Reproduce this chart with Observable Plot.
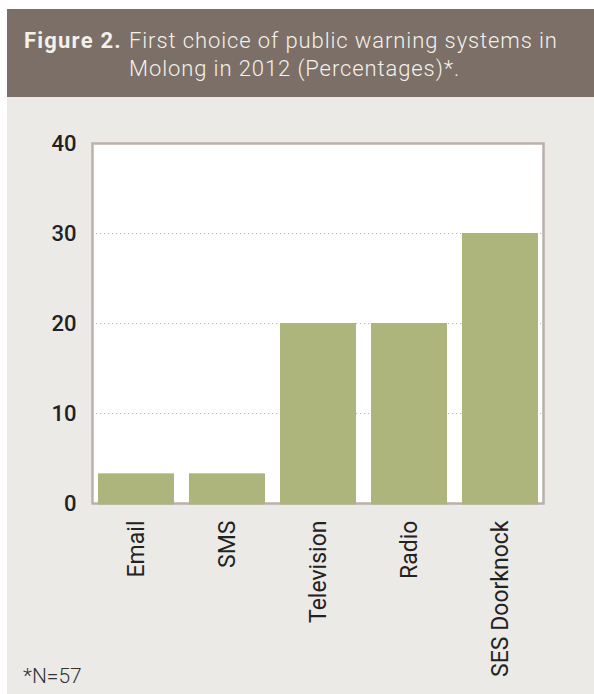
<!DOCTYPE html>
<html>
<head>
<meta charset="utf-8">
<script src="https://cdn.jsdelivr.net/npm/d3@7"></script>
<script src="https://cdn.jsdelivr.net/npm/@observablehq/plot@0.6"></script>
<style>
  html, body { margin: 0; padding: 0; background: #ffffff; }
  body { width: 594px; height: 694px; position: relative; overflow: hidden; font-family: Roboto, "Noto Sans", sans-serif; }
  #panel { position: absolute; left: 7px; top: 9px; width: 587px; height: 685px; background: #ebeae6; }
  #header { position: absolute; left: 7px; top: 9px; width: 587px; height: 88px; background: #7b6f67; color: #f4f1ec; }
  #title { position: absolute; left: 17px; top: 18px; display: grid; grid-template-columns: 105px 460px; font-size: 22px; line-height: 28px; }
  #title .fig { font-weight: 700; white-space: nowrap; letter-spacing: 1.2px; }
  #title .txt { font-weight: 300; letter-spacing: 0.9px; }
  #chart { position: absolute; left: 0; top: 97px; }
  #note { position: absolute; left: 23px; top: 664px; font-size: 21px; font-weight: 300; color: #333; }
</style>
</head>
<body>
<div id="panel"></div>
<div id="header"><div id="title"><span class="fig">Figure 2.</span><span class="txt">First choice of public warning systems in Molong in 2012 (Percentages)*.</span></div></div>
<div id="chart"></div>
<div id="note">*N=57</div>
<script>
const categories = ["Email", "SMS", "Television", "Radio", "SES Doorknock"];
const values = [3.3, 3.3, 20, 20, 30];
const yTicks = [0, 10, 20, 30, 40];
const gridTicks = [10, 20, 30];

const data = categories.map((c, i) => ({category: c, value: values[i]}));

const plot = Plot.plot({
  width: 594,
  height: 597,
  marginLeft: 92,
  marginRight: 51,
  marginTop: 46,
  marginBottom: 191,
  style: {background: "transparent", fontFamily: "Roboto, sans-serif", color: "#222"},
  x: {domain: categories, paddingInner: 0.165, paddingOuter: 0.05, label: null},
  y: {domain: [0, 40], label: null},
  marks: [
    Plot.frame({fill: "white", stroke: "#bab1ab", strokeWidth: 2.5}),
    Plot.ruleY(gridTicks, {stroke: "#bdb6b1", strokeWidth: 1, strokeDasharray: "1.2,2.8"}),
    Plot.barY(data, {x: "category", y: "value", fill: "#adb57d", insetBottom: -1.5}),
    Plot.axisY(yTicks, {tickSize: 0, tickPadding: 16, fontSize: 22, fontWeight: 500, label: null}),
    Plot.axisX({tickSize: 0, tickPadding: 17, tickRotate: -90, fontSize: 23, label: null, style: {letterSpacing: "0.4px"}})
  ]
});
document.getElementById("chart").appendChild(plot);
</script>
</body>
</html>
